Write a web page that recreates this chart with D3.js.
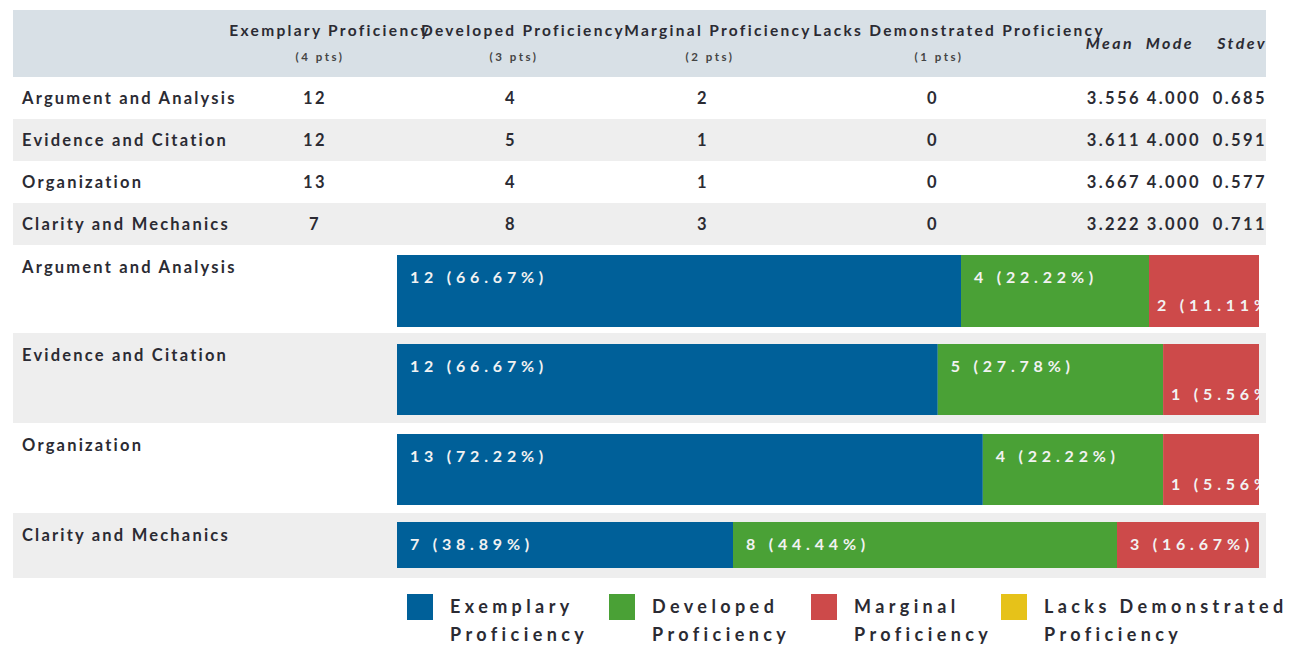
<!DOCTYPE html>
<html>
<head>
<meta charset="utf-8">
<style>
    body { margin: 0; background: #fff; }
    svg { display: block; font-family: "Lato", "Open Sans", sans-serif; }
    .cell { font-weight: 700; font-size: 16.5px; fill: #2b2b33; letter-spacing: 2.2px; }
    .num { font-weight: 700; font-size: 16.5px; fill: #2b2b33; letter-spacing: 2.4px; }
    .head { font-weight: 700; font-size: 15.5px; fill: #2b2b33; letter-spacing: 2.3px; }
    .pts { font-weight: 700; font-size: 11.5px; fill: #444; letter-spacing: 2.5px; }
    .stat-head { font-weight: 700; font-style: italic; font-size: 16px; fill: #2b2b33; letter-spacing: 2.4px; }
    .bar-label { font-weight: 700; font-size: 16px; fill: #f2f2f2; letter-spacing: 4.8px; }
    .legend-text { font-weight: 700; font-size: 18px; fill: #2b2b33; letter-spacing: 4.4px; }
</style>
</head>
<body>
<svg width="1289" height="646"></svg>

<script src="https://cdn.jsdelivr.net/npm/d3@7"></script>
<script>
    // data
    let criteria = ["Argument and Analysis", "Evidence and Citation", "Organization", "Clarity and Mechanics"];
    let levels = ["Exemplary Proficiency", "Developed Proficiency", "Marginal Proficiency", "Lacks Demonstrated Proficiency"];
    let legendLines = [["Exemplary", "Proficiency"], ["Developed", "Proficiency"], ["Marginal", "Proficiency"], ["Lacks Demonstrated", "Proficiency"]];
    let points = [4, 3, 2, 1];
    let counts = [
        [12, 4, 2, 0],
        [12, 5, 1, 0],
        [13, 4, 1, 0],
        [7, 8, 3, 0]
    ];
    let means = [3.556, 3.611, 3.667, 3.222];
    let modes = [4, 4, 4, 3];
    let stdevs = [0.685, 0.591, 0.577, 0.711];
    let colors = ["#006099", "#4aa136", "#cd4a4a", "#e6c219"];

    let svg = d3.select("svg");

    // ---------- table ----------
    let tableLeft = 13, tableRight = 1266;

    svg.append("rect")
        .attr("x", tableLeft).attr("y", 10)
        .attr("width", tableRight - tableLeft).attr("height", 67)
        .attr("fill", "#d8e0e6");

    let rowY = d3.scaleBand()
        .domain(criteria)
        .range([77, 245]);

    let colX = d3.scaleOrdinal()
        .domain(levels)
        .range([315, 511, 703, 933]);

    // header centers sit a bit right of the count columns (text overflows)
    let headX = d3.scaleOrdinal()
        .domain(levels)
        .range([330, 523, 718, 959]);
    let ptsX = d3.scaleOrdinal()
        .domain(levels)
        .range([320, 514, 710, 939]);

    svg.selectAll(".row-bg")
        .data(criteria)
        .join("rect")
        .attr("class", "row-bg")
        .attr("x", tableLeft)
        .attr("y", d => rowY(d))
        .attr("width", tableRight - tableLeft)
        .attr("height", rowY.bandwidth())
        .attr("fill", (d, i) => i % 2 == 1 ? "#eeeeee" : "#ffffff");

    svg.selectAll(".head")
        .data(levels)
        .join("text")
        .attr("class", "head")
        .attr("x", d => headX(d))
        .attr("y", 36)
        .attr("text-anchor", "middle")
        .text(d => d);

    svg.selectAll(".pts")
        .data(levels)
        .join("text")
        .attr("class", "pts")
        .attr("x", d => ptsX(d))
        .attr("y", 61)
        .attr("text-anchor", "middle")
        .text((d, i) => "(" + points[i] + " pts)");

    let statCols = [
        { name: "Mean", x: 1141, values: means, fmt: d3.format(".3f") },
        { name: "Mode", x: 1201, values: modes, fmt: d3.format(".3f") },
        { name: "Stdev", x: 1267, values: stdevs, fmt: d3.format(".3f") }
    ];

    statCols.forEach(function (c) {
        svg.append("text")
            .attr("class", "stat-head")
            .attr("x", c.x - (c.name == "Stdev" ? 0 : 7))
            .attr("y", 49)
            .attr("text-anchor", "end")
            .text(c.name);
        svg.selectAll(".stat-" + c.name)
            .data(c.values)
            .join("text")
            .attr("class", "num stat-" + c.name)
            .attr("x", c.x)
            .attr("y", (d, i) => rowY(criteria[i]) + rowY.bandwidth() / 2 + 6)
            .attr("text-anchor", "end")
            .text(d => c.fmt(d));
    });

    svg.selectAll(".row-label")
        .data(criteria)
        .join("text")
        .attr("class", "cell row-label")
        .attr("x", 22)
        .attr("y", d => rowY(d) + rowY.bandwidth() / 2 + 6)
        .text(d => d);

    criteria.forEach(function (c, i) {
        svg.selectAll(".count-" + i)
            .data(counts[i])
            .join("text")
            .attr("class", "num count-" + i)
            .attr("x", (d, j) => colX(levels[j]))
            .attr("y", rowY(c) + rowY.bandwidth() / 2 + 6)
            .attr("text-anchor", "middle")
            .text(d => d);
    });

    // ---------- stacked bars ----------
    let bandTops = [245, 333, 423, 513];
    let bandHeights = [88, 90, 90, 65];
    let barTopPad = [10, 11, 11, 9];
    let barHeights = [72, 71, 71, 46];
    let barLeft = 397, barRight = 1261, clipRight = 1259;

    let x = d3.scaleLinear().range([0, barRight - barLeft]);

    svg.append("defs").append("clipPath")
        .attr("id", "bar-clip")
        .append("rect")
        .attr("x", 0).attr("y", 0)
        .attr("width", clipRight).attr("height", 646);

    let pct = d3.format(".2f");

    criteria.forEach(function (c, i) {
        let top = bandTops[i];
        svg.append("rect")
            .attr("x", tableLeft).attr("y", top)
            .attr("width", tableRight - tableLeft).attr("height", bandHeights[i])
            .attr("fill", i % 2 == 1 ? "#eeeeee" : "#ffffff");

        svg.append("text")
            .attr("class", "cell")
            .attr("x", 22)
            .attr("y", top + 28)
            .text(c);

        let total = d3.sum(counts[i]);
        x.domain([0, total]);

        let g = svg.append("g").attr("clip-path", "url(#bar-clip)");
        let by = top + barTopPad[i];
        let bh = barHeights[i];

        // measure labels, give narrow segments a minimum width, wrap their label
        let segs = counts[i].map((v, j) => ({
            v: v, j: j,
            label: v + " (" + pct(v / total * 100) + "%)"
        })).filter(s => s.v > 0);

        segs.forEach(function (s) {
            let t = svg.append("text").attr("class", "bar-label").text(s.label);
            s.lw = t.node().getComputedTextLength();
            t.remove();
            s.w = x(s.v);
            s.wrap = s.w < s.lw + 5;
        });

        let fixed = segs.filter(s => s.wrap);
        if (fixed.length) {
            fixed.forEach(s => s.w = Math.max(s.w, s.lw - 14));
            let rest = segs.filter(s => !s.wrap);
            let restW = (barRight - barLeft) - d3.sum(fixed, s => s.w) - 2;
            let restTotal = d3.sum(rest, s => s.v);
            rest.forEach(s => s.w = s.v / restTotal * restW);
        }

        let cx = barLeft;
        segs.forEach(function (s) {
            s.x = cx;
            cx += s.w;
        });

        g.selectAll("rect")
            .data(segs)
            .join("rect")
            .attr("x", d => d.x)
            .attr("y", by)
            .attr("width", d => d.w)
            .attr("height", bh)
            .attr("fill", d => colors[d.j]);

        g.selectAll("text")
            .data(segs)
            .join("text")
            .attr("class", "bar-label")
            .attr("x", d => d.x + (d.wrap ? 8 : 13))
            .attr("y", d => by + (d.wrap ? 56 : 28))
            .text(d => d.label);
    });

    // ---------- legend ----------
    let legendX = d3.scaleOrdinal()
        .domain(levels)
        .range([407, 609, 811, 1001]);

    let legend = svg.selectAll(".legend")
        .data(levels)
        .join("g")
        .attr("class", "legend")
        .attr("transform", d => `translate(${legendX(d)},594)`);

    legend.append("rect")
        .attr("width", 26).attr("height", 26)
        .attr("fill", (d, i) => colors[i]);

    legend.each(function (d, i) {
        d3.select(this).selectAll("text")
            .data(legendLines[i])
            .join("text")
            .attr("class", "legend-text")
            .attr("x", 43)
            .attr("y", (t, k) => 19 + k * 28)
            .text(t => t);
    });
</script>
</body>
</html>
